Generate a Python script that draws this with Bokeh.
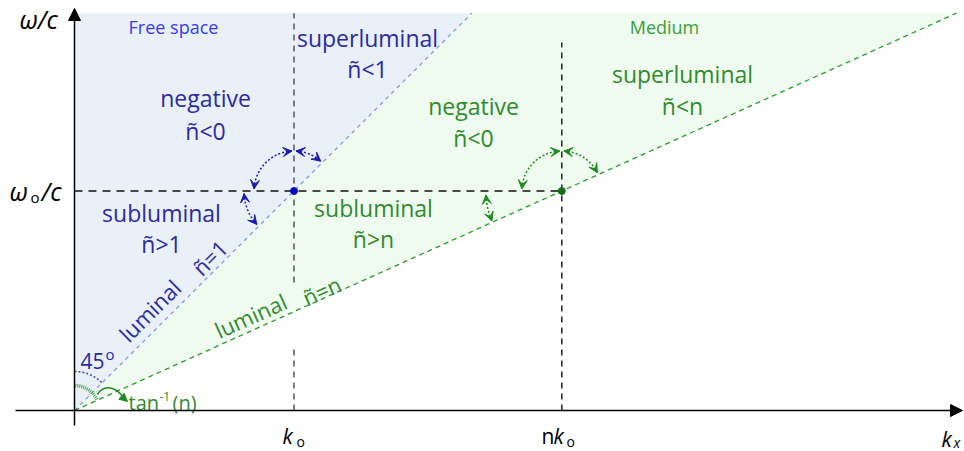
import numpy as np
from bokeh.plotting import figure
from bokeh.models import Arrow, NormalHead, VeeHead, Range1d
from bokeh.core.properties import value
from bokeh.embed import file_html
from bokeh.resources import INLINE

# ---------------- data ----------------
n_medium = 2.22        # refractive index of the medium (slope of light line 1/n)
k0 = 1.0               # free-space wavenumber (normalised)
w0_over_c = 1.0        # omega_0 / c (normalised)
y_top = 1.81           # top of the shaded light-cone regions
free_labels = ["Free space", "negative", "ñ<0", "superluminal", "ñ<1",
               "subluminal", "ñ>1", "luminal", "ñ=1"]
medium_labels = ["Medium", "negative", "ñ<0", "superluminal", "ñ<n",
                 "subluminal", "ñ>n", "luminal", "ñ=n"]

# ---------------- layout helpers ----------------
W, H = 964, 451
S = 219.5            # pixels per unit (equal on both axes)
OX, OY = 74, 410     # pixel position of the origin


def X(px):
    return (px - OX) / S


def Y(py):
    return (OY - py) / S


FONT = value("Open Sans")
BLUE_T = "#2b2ba3"
GREEN_T = "#2e8b2e"
BLUE_A = "#1a1ab0"
GREEN_A = "#1f8a1f"

p = figure(width=W, height=H, x_range=Range1d(X(0), X(W)), y_range=Range1d(Y(H), Y(0)),
           min_border=0, toolbar_location=None, output_backend="svg",
           x_axis_location=None, y_axis_location=None, outline_line_color=None)
p.background_fill_color = "white"
p.grid.grid_line_color = None

# shaded regions
p.patch([0, 0, y_top], [0, y_top, y_top], fill_color="#e9f0f8", line_color=None)
p.patch([0, y_top, n_medium * y_top], [0, y_top, y_top], fill_color="#f0fbef", line_color=None)

# light lines
p.line([0, y_top], [0, y_top], line_color="#7c9cf0", line_dash="4 4", line_width=1.3)
p.line([0, n_medium * y_top], [0, y_top], line_color="#2a9a2a", line_dash="5 4", line_width=1.3)

# guide lines
p.line([0, n_medium * k0], [w0_over_c, w0_over_c], line_color="#111111", line_dash="8 6", line_width=1.5)
p.line([k0, k0], [0, Y(345)], line_color="#555555", line_dash="6 5", line_width=1.5)
p.line([k0, k0], [Y(282), y_top], line_color="#555555", line_dash="6 5", line_width=1.5)
p.line([n_medium * k0, n_medium * k0], [0, Y(42)], line_color="#222222", line_dash="6 5", line_width=1.5)

# axes
p.add_layout(Arrow(end=NormalHead(size=12, fill_color="black", line_color="black"),
                   x_start=X(15), y_start=0, x_end=X(962), y_end=0, line_width=1.5))
p.add_layout(Arrow(end=NormalHead(size=12, fill_color="black", line_color="black"),
                   x_start=0, y_start=Y(425), x_end=0, y_end=Y(8), line_width=1.5))

# points
p.scatter([k0], [w0_over_c], size=7, color="#0d0dc0")
p.scatter([n_medium * k0], [w0_over_c], size=7, color="#1a6a1a")


def dotted_arc(cx, cy, r_px, a0, a1, color, heads=True, width=1.5, dash="2 2"):
    r = r_px / S
    t = np.radians(np.linspace(a0, a1, 60))
    p.line(cx + r * np.cos(t), cy + r * np.sin(t), line_color=color, line_dash=dash, line_width=width)
    if heads:
        for a_end, a_prev in ((a0, a0 + np.sign(a1 - a0) * 6), (a1, a1 - np.sign(a1 - a0) * 6)):
            e, b = np.radians(a_end), np.radians(a_prev)
            p.add_layout(Arrow(end=VeeHead(size=9, fill_color=color, line_color=color),
                               x_start=cx + r * np.cos(b), y_start=cy + r * np.sin(b),
                               x_end=cx + r * np.cos(e), y_end=cy + r * np.sin(e),
                               line_alpha=0))


ang_med = np.degrees(np.arctan(1 / n_medium))

# arcs around (k0, w0)
dotted_arc(k0, w0_over_c, 40, 93, 177, BLUE_A)
dotted_arc(k0, w0_over_c, 40, 87, 48, BLUE_A)
dotted_arc(k0, w0_over_c, 50, 183, 222, BLUE_A)
# arcs around (n k0, w0)
dotted_arc(n_medium * k0, w0_over_c, 40, 93, 177, GREEN_A)
dotted_arc(n_medium * k0, w0_over_c, 40, 87, ang_med + 3, GREEN_A)
dotted_arc(n_medium * k0, w0_over_c, 76, 183, 180 + ang_med - 1, GREEN_A)
# angle marks at origin
dotted_arc(0, 0, 39, 46, 90, "#3a4fb0", heads=False, width=1.5)
dotted_arc(0, 0, 25, ang_med + 2, 90, "#4aa04a", heads=False, width=3.5, dash="1 1")
p.bezier(x0=[X(97)], y0=[Y(394)], x1=[X(124)], y1=[Y(399)], cx0=[X(103)], cy0=[Y(384)],
         cx1=[X(116)], cy1=[Y(385)], line_color=GREEN_A, line_width=1.5)
p.add_layout(Arrow(end=NormalHead(size=8, fill_color=GREEN_A, line_color=GREEN_A),
                   x_start=X(119), y_start=Y(394), x_end=X(127), y_end=Y(401), line_alpha=0))


def txt(px, py, s, color, size, angle=0.0, italic=False, align="center"):
    p.text(x=[X(px)], y=[Y(py)], text=[s], text_color=color, text_font=FONT,
           text_font_size=f"{size}px", angle=angle, text_align=align, text_baseline="middle",
           text_font_style="italic" if italic else "normal")


# free-space labels
txt(173, 26, free_labels[0], "#3a3aee", 18)
txt(205, 97, free_labels[1], BLUE_T, 23)
txt(205, 130, free_labels[2], BLUE_T, 23)
txt(367, 37, free_labels[3], BLUE_T, 23)
txt(367, 68, free_labels[4], BLUE_T, 23)
txt(161, 212, free_labels[5], BLUE_T, 23)
txt(161, 243, free_labels[6], BLUE_T, 23)
txt(149, 310, free_labels[7], BLUE_T, 22, angle=np.pi / 4)
txt(209, 257, free_labels[8], BLUE_T, 22, angle=np.pi / 4)
txt(80, 360, "45", BLUE_T, 21, align="left")
txt(105, 353, "o", BLUE_T, 15, align="left")

# medium labels
txt(664, 26, medium_labels[0], "#3a9e3a", 18)
txt(473, 105, medium_labels[1], GREEN_T, 23)
txt(473, 137, medium_labels[2], GREEN_T, 23)
txt(682, 73, medium_labels[3], GREEN_T, 23)
txt(682, 105, medium_labels[4], GREEN_T, 23)
txt(373, 207, medium_labels[5], GREEN_T, 23)
txt(373, 238, medium_labels[6], GREEN_T, 23)
txt(250, 315, medium_labels[7], GREEN_T, 22, angle=np.radians(ang_med))
txt(321, 290, medium_labels[8], GREEN_T, 22, angle=np.radians(ang_med))
txt(128, 402, "tan", GREEN_T, 20, align="left")
txt(159, 396, "-1", GREEN_T, 12, align="left")
txt(172, 402, "(n)", GREEN_T, 20, align="left")

# axis labels
txt(19, 18, "ω/c", "black", 25, italic=True, align="left")
txt(9, 190, "ω", "black", 25, italic=True, align="left")
txt(30, 196, "o", "black", 15, align="left")
txt(41, 190, "/c", "black", 25, italic=True, align="left")

txt(282, 435, "k", "black", 21, italic=True, align="left")
txt(296, 441, "o", "black", 14, align="left")
txt(541, 435, "n", "black", 21, align="left")
txt(553, 435, "k", "black", 21, italic=True, align="left")
txt(566, 441, "o", "black", 14, align="left")
txt(941, 438, "k", "black", 21, italic=True, align="left")
txt(953, 442, "x", "black", 14, italic=True, align="left")

open("out.html", "w").write(file_html(p, INLINE))
